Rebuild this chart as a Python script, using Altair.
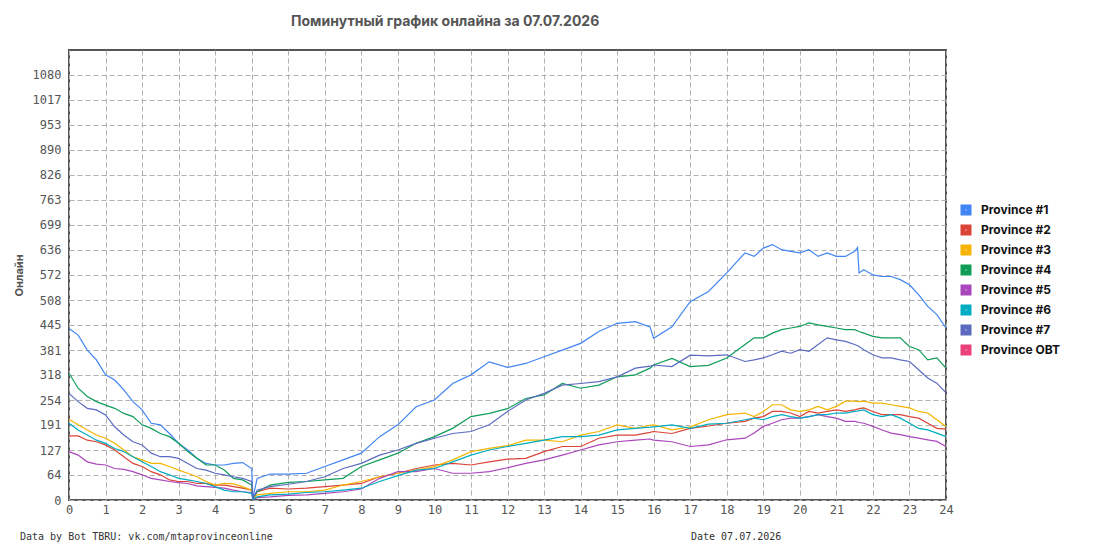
import altair as alt
import pandas as pd

TITLE = "Поминутный график онлайна за 07.07.2026"
FOOTER_LEFT = "Data by Bot TBRU: vk.com/mtaprovinceonline"
FOOTER_RIGHT = "Date 07.07.2026"
Y_TITLE = "Онлайн"

SERIES = ["Province #1", "Province #2", "Province #3", "Province #4",
          "Province #5", "Province #6", "Province #7", "Province OBT"]
COLORS = ["#4285F4", "#DB4437", "#F4B400", "#0F9D58",
          "#AB47BC", "#00ACC1", "#5C6BC0", "#EC407A"]

X_TICKS = list(range(25))
Y_TICKS = [0, 64, 127, 191, 254, 318, 381, 445, 508, 572, 636, 699, 763,
           826, 890, 953, 1017, 1080]
Y_MAX = 1143.5

HOURS = [0, 0.25, 0.5, 0.75, 1, 1.25, 1.5, 1.75, 2, 2.25, 2.5, 2.75, 3, 3.25,
         3.5, 3.75, 4, 4.25, 4.5, 4.75, 5.0,
         5.03, 5.15, 5.5,
         6, 6.5, 7, 7.5, 8, 8.5, 9, 9.5, 10, 10.5, 11, 11.5, 12, 12.5, 13,
         13.5, 14, 14.5, 15, 15.5, 15.9, 16, 16.5, 17, 17.5,
         18,
         18.5, 18.75, 19, 19.25, 19.5, 19.75, 20, 20.25, 20.5, 20.75, 21,
         21.25, 21.5,
         21.58, 21.62,
         21.75, 22, 22.25, 22.5, 22.75, 23, 23.25, 23.5, 23.75, 24]

P1 = [436, 419, 381, 356, 318, 305, 280, 250, 229, 195, 191, 169, 144, 127,
      106, 93, 89, 89, 93, 95, 80,
      5, 55, 66,
      66, 68, 85, 102, 119, 161, 191, 237, 254, 296, 318, 351, 337, 347, 364,
      381, 398, 428, 449, 453, 440, 411, 440, 504, 530,
      577,
      628, 619, 640, 649, 636, 632, 628, 636, 619, 628, 619, 619, 632,
      642, 577,
      585, 572, 568, 568, 560, 547, 522, 492, 471, 437]

P2 = [163, 163, 152, 148, 140, 127, 110, 93, 85, 72, 64, 51, 47, 47, 42, 42,
      38, 38, 34, 30, 25,
      3, 21, 30,
      28, 30, 34, 38, 42, 59, 68, 80, 89, 93, 89, 97, 104, 106, 123, 136, 136,
      157, 165, 165, 172, 174, 169, 182, 188,
      195,
      200, 208, 212, 225, 225, 221, 212, 225, 221, 225, 229, 225, 229,
      231, 232,
      234, 225, 217, 217, 217, 212, 208, 195, 182, 180]

P3 = [205, 191, 178, 165, 157, 144, 127, 110, 102, 93, 93, 85, 76, 68, 59, 47,
      38, 42, 41, 34, 25,
      3, 13, 17,
      21, 21, 25, 38, 47, 59, 68, 76, 85, 102, 123, 131, 138, 152, 152, 148,
      165, 174, 191, 182, 190, 191, 178, 186, 204,
      217,
      221, 212, 225, 242, 242, 229, 225, 229, 238, 229, 238, 251, 251,
      250, 250,
      251, 246, 246, 242, 238, 234, 225, 221, 204, 187]

P4 = [322, 284, 263, 250, 241, 233, 220, 212, 191, 182, 169, 161, 144, 123,
      106, 89, 89, 76, 55, 51, 38,
      4, 21, 38,
      45, 47, 51, 55, 85, 102, 119, 144, 161, 182, 212, 220, 232, 258, 267,
      296, 284, 292, 313, 318, 335, 343, 360, 339, 342,
      361,
      395, 412, 412, 424, 433, 437, 441, 450, 445, 441, 437, 433, 433,
      430, 428,
      424, 416, 412, 412, 412, 390, 382, 356, 361, 335]

P5 = [123, 114, 97, 91, 89, 80, 78, 72, 64, 55, 51, 47, 44, 42, 36, 34, 32,
      30, 25, 21, 19,
      2, 6, 8,
      12, 13, 17, 21, 28, 55, 72, 72, 80, 68, 68, 72, 82, 93, 102, 114, 127,
      140, 148, 152, 155, 152, 148, 136, 140,
      153,
      157, 170, 187, 195, 204, 208, 208, 212, 217, 212, 208, 200, 200,
      198, 197,
      195, 187, 178, 170, 166, 161, 157, 153, 149, 136]

P6 = [195, 178, 165, 152, 144, 131, 123, 110, 97, 85, 72, 64, 55, 51, 47, 42,
      34, 25, 21, 21, 17,
      2, 8, 13,
      15, 19, 21, 25, 30, 47, 62, 76, 80, 97, 114, 127, 136, 144, 152, 161,
      161, 165, 178, 182, 185, 186, 191, 182, 193,
      195,
      204, 208, 204, 212, 217, 212, 208, 212, 217, 217, 221, 221, 225,
      226, 227,
      229, 217, 212, 217, 208, 195, 182, 178, 170, 161]

P7 = [271, 250, 233, 229, 216, 186, 165, 148, 140, 119, 110, 110, 106, 93, 80,
      76, 68, 64, 59, 55, 47,
      4, 25, 34,
      40, 47, 59, 80, 93, 114, 127, 144, 157, 169, 174, 191, 225, 254, 271,
      292, 296, 301, 313, 335, 340, 343, 339, 368, 366,
      369,
      352, 356, 361, 369, 378, 373, 382, 378, 395, 412, 407, 403, 395,
      392, 390,
      382, 369, 361, 361, 356, 352, 331, 310, 297, 272]

VALUES = [P1, P2, P3, P4, P5, P6, P7]

rows = []
for name, vals in zip(SERIES, VALUES):
    for h, v in zip(HOURS, vals):
        rows.append({"hour": h, "online": v, "series": name})
df = pd.DataFrame(rows)

lines = alt.Chart(df).mark_line(strokeWidth=1.2).encode(
    x=alt.X("hour:Q",
            scale=alt.Scale(domain=[0, 24], nice=False, zero=False),
            axis=alt.Axis(values=X_TICKS, title=None, labelFlush=False,
                          labelOverlap=False, labelPadding=4, format="d")),
    y=alt.Y("online:Q",
            scale=alt.Scale(domain=[0, Y_MAX], nice=False),
            axis=alt.Axis(values=Y_TICKS, title=Y_TITLE, labelOverlap=False,
                          labelPadding=8, titlePadding=8, format="d")),
    color=alt.Color("series:N",
                    scale=alt.Scale(domain=SERIES, range=COLORS),
                    legend=alt.Legend(title=None, orient="none",
                                      legendX=891, legendY=154,
                                      symbolType="square", symbolSize=36,
                                      symbolStrokeWidth=5, symbolOpacity=1,
                                      labelFont="Inter", labelFontSize=12,
                                      labelFontWeight="bold",
                                      labelColor="#111111",
                                      rowPadding=-6, labelOffset=9)),
)

title_df = pd.DataFrame({"t": [TITLE]})
title = alt.Chart(title_df).mark_text(
    align="left", baseline="middle", font="Inter", fontSize=14,
    fontWeight="bold", color="#555555"
).encode(text="t:N", x=alt.value(222), y=alt.value(-28))

foot_df = pd.DataFrame({"t": [FOOTER_LEFT, FOOTER_RIGHT], "px": [-49, 622]})
footer = alt.Chart(foot_df).mark_text(
    align="left", baseline="middle", font="DejaVu Sans Mono", fontSize=10,
    color="#333333"
).encode(text="t:N", x=alt.X("px:Q", scale=None), y=alt.value(487))

chart = alt.layer(lines, title, footer).properties(
    width=877, height=450,
    autosize=alt.AutoSizeParams(type="none"),
    padding={"left": 61, "top": 42, "right": 141, "bottom": 42},
).configure_view(
    stroke="#555555", strokeWidth=2
).configure_axis(
    grid=True, gridColor="#b0b0b0", gridDash=[5, 3], gridWidth=1,
    domain=False, ticks=False,
    labelFont="DejaVu Sans Mono", labelFontSize=12, labelColor="#555555",
    titleFont="Inter", titleFontSize=11, titleFontWeight="bold",
    titleColor="#555555",
)

chart.save("out.html", embed_options={"renderer": "svg", "actions": False})
